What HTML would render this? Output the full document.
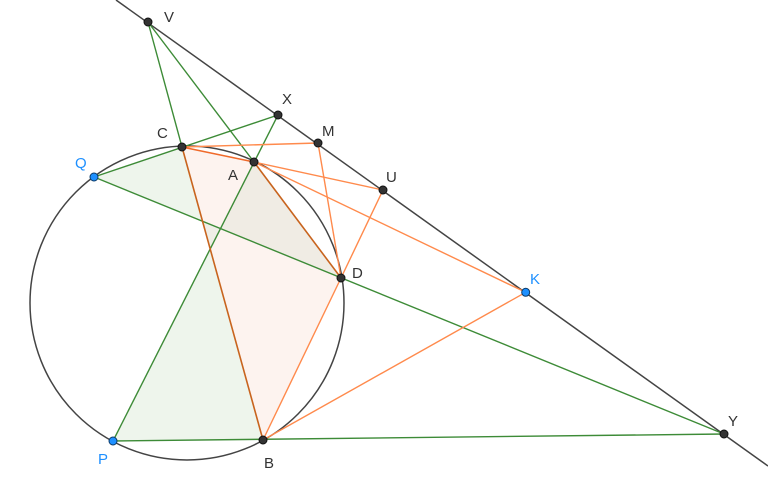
<!DOCTYPE html>
<html><head><meta charset="utf-8"><style>
html,body{margin:0;padding:0;background:#fff;}
svg{display:block;}
text{font-family:"Liberation Sans",sans-serif;font-size:15px;fill:#333;}
</style></head><body>
<svg width="768" height="478" viewBox="0 0 768 478" xmlns="http://www.w3.org/2000/svg">
<polygon points="94,177 182,147 202.6,221.4" fill="#eef5ec"/>
<polygon points="182,147 254,162 341,278 263,440" fill="#fdf3ef"/>
<polygon points="254,162 341,278 220.3,228.6" fill="#f0ece4"/>
<polygon points="202.6,221.4 220.3,228.6 210.1,248.8" fill="#efeee6"/>
<polygon points="113,441 263,440 210.1,248.8" fill="#eef5ec"/>
<circle cx="187" cy="303" r="157" fill="none" stroke="#444" stroke-width="1.5"/>
<line x1="116" y1="0" x2="768" y2="466" stroke="#444" stroke-width="1.5"/>
<g stroke="#3d8b37" stroke-width="1.4" fill="none">
<line x1="148" y1="22" x2="182" y2="147"/>
<line x1="148" y1="22" x2="254" y2="162"/>
<line x1="94" y1="177" x2="278" y2="115"/>
<line x1="278" y1="115" x2="113" y2="441"/>
<line x1="94" y1="177" x2="724" y2="434"/>
<line x1="113" y1="441" x2="724" y2="434"/>
</g>
<g stroke="#ff8a4c" stroke-width="1.4" fill="none">
<line x1="182" y1="147" x2="318" y2="143"/>
<line x1="318" y1="143" x2="341" y2="278"/>
<line x1="254" y1="162" x2="383" y2="190"/>
<line x1="383" y1="190" x2="341" y2="278"/>
<line x1="254" y1="162" x2="525.7" y2="292.3"/>
<line x1="525.7" y1="292.3" x2="263" y2="440"/>
<line x1="341" y1="278" x2="263" y2="440"/>
</g>
<line x1="182" y1="147" x2="254" y2="162" stroke="#f06a2a" stroke-width="1.6"/>
<g stroke="#c8641e" stroke-width="1.6">
<line x1="182" y1="147" x2="263" y2="440"/>
<line x1="254" y1="162" x2="341" y2="278"/>
</g>
<g fill="#333" stroke="#111" stroke-width="1">
<circle cx="148" cy="22" r="4"/>
<circle cx="278" cy="115" r="4"/>
<circle cx="318" cy="143" r="4"/>
<circle cx="383" cy="190" r="4"/>
<circle cx="724" cy="434" r="4"/>
<circle cx="182" cy="147" r="4"/>
<circle cx="254" cy="162" r="4"/>
<circle cx="341" cy="278" r="4"/>
<circle cx="263" cy="440" r="4"/>
</g>
<g fill="#1e90ff" stroke="#0d3a66" stroke-width="1">
<circle cx="94" cy="177" r="4"/>
<circle cx="113" cy="441" r="4"/>
<circle cx="525.7" cy="292.3" r="4"/>
</g>
<text x="164" y="22">V</text>
<text x="282" y="104">X</text>
<text x="322" y="136">M</text>
<text x="386" y="182">U</text>
<text x="530" y="284" style="fill:#1e90ff">K</text>
<text x="728" y="426">Y</text>
<text x="157" y="138">C</text>
<text x="228" y="180">A</text>
<text x="75" y="168" style="fill:#1e90ff">Q</text>
<text x="352" y="278">D</text>
<text x="98" y="464" style="fill:#1e90ff">P</text>
<text x="264" y="468">B</text>
</svg>
</body></html>
